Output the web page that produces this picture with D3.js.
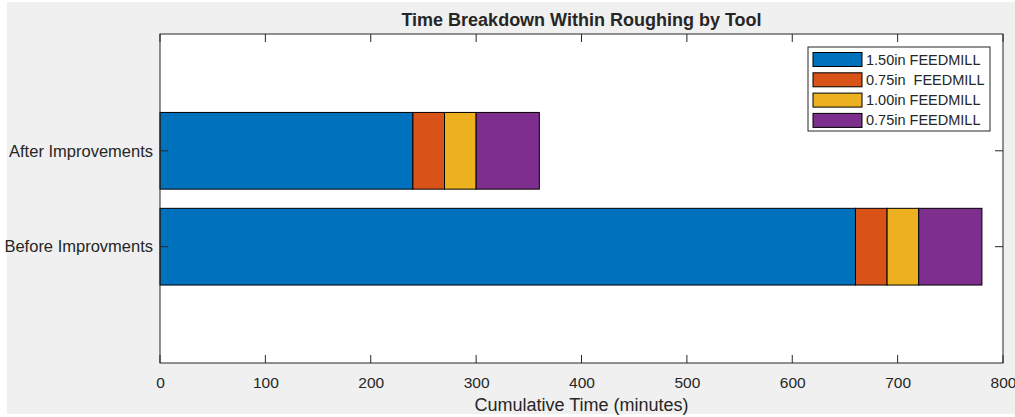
<!DOCTYPE html>
<html>
<head>
<meta charset="utf-8">
<script src="https://cdn.jsdelivr.net/npm/d3@7/dist/d3.min.js"></script>
<style>
  body { margin: 0; background: #fff; }
  text { font-family: "Liberation Sans", Arial, sans-serif; fill: #262626; }
</style>
</head>
<body>
<svg id="chart" width="1015" height="417"></svg>
<script>
const categories = ['Before Improvments', 'After Improvements']
const seriesNames = ['1.50in FEEDMILL', '0.75in  FEEDMILL', '1.00in FEEDMILL', '0.75in FEEDMILL']
const tool150 = [660, 240]
const tool075a = [30, 30]
const tool100 = [30, 30]
const tool075b = [60, 60]
const xTicks = [0, 100, 200, 300, 400, 500, 600, 700, 800]

const colors = ['#0072BD', '#D95319', '#EDB120', '#7E2F8E']
const axisColor = '#262626'

const svg = d3.select('#chart')
const pLeft = 160, pRight = 1003, pTop = 34, pBottom = 363

// figure background
svg.append('rect').attr('x', 7).attr('y', 2).attr('width', 1008).attr('height', 412).attr('fill', '#f0f0f0')
svg.append('rect').attr('x', pLeft).attr('y', pTop).attr('width', pRight - pLeft).attr('height', pBottom - pTop).attr('fill', '#fff')

const xScale = d3.scaleLinear().domain([0, 800]).range([pLeft, pRight])
// category positions 1..n like matlab barh
const yScale = d3.scaleLinear().domain([-0.213, 3.218]).range([pBottom, pTop])
const barH = yScale(0) - yScale(0.8)

const rows = categories.map((c, i) => ({ cat: c, pos: i + 1, vals: [tool150[i], tool075a[i], tool100[i], tool075b[i]] }))

rows.forEach(r => {
  let acc = 0
  r.vals.forEach((v, j) => {
    svg.append('rect')
      .attr('x', xScale(acc))
      .attr('y', yScale(r.pos) - barH / 2)
      .attr('width', xScale(acc + v) - xScale(acc))
      .attr('height', barH)
      .attr('fill', colors[j])
      .attr('stroke', '#000')
      .attr('stroke-width', 1)
    acc += v
  })
})

// axes box
svg.append('rect').attr('x', pLeft).attr('y', pTop).attr('width', pRight - pLeft).attr('height', pBottom - pTop)
  .attr('fill', 'none').attr('stroke', axisColor).attr('stroke-width', 1)

const tickLen = 8
const xAxis = d3.axisBottom(xScale).tickValues(xTicks).tickSize(0).tickPadding(14)
const gx = svg.append('g').attr('transform', `translate(0,${pBottom})`).call(xAxis)
gx.select('.domain').remove()
gx.selectAll('text').attr('font-size', '15.5px').style('font-family', '"Liberation Sans", Arial, sans-serif').attr('fill', axisColor)

xTicks.forEach(t => {
  svg.append('line').attr('x1', xScale(t)).attr('x2', xScale(t)).attr('y1', pBottom).attr('y2', pBottom - tickLen).attr('stroke', axisColor)
  svg.append('line').attr('x1', xScale(t)).attr('x2', xScale(t)).attr('y1', pTop).attr('y2', pTop + tickLen).attr('stroke', axisColor)
})

rows.forEach(r => {
  const y = yScale(r.pos)
  svg.append('line').attr('x1', pLeft).attr('x2', pLeft + tickLen).attr('y1', y).attr('y2', y).attr('stroke', axisColor)
  svg.append('line').attr('x1', pRight).attr('x2', pRight - tickLen).attr('y1', y).attr('y2', y).attr('stroke', axisColor)
  svg.append('text').attr('x', pLeft - 7).attr('y', y).attr('dy', '0.35em')
    .attr('text-anchor', 'end').attr('font-size', '16.5px').text(r.cat)
})

svg.append('text').attr('x', (pLeft + pRight) / 2).attr('y', 411).attr('text-anchor', 'middle')
  .attr('font-size', '18px').text('Cumulative Time (minutes)')

svg.append('text').attr('x', (pLeft + pRight) / 2).attr('y', 26).attr('text-anchor', 'middle')
  .attr('font-size', '18px').attr('font-weight', 'bold').attr('fill', '#000').text('Time Breakdown Within Roughing by Tool')

// legend
const lg = svg.append('g').attr('transform', 'translate(808,47)')
lg.append('rect').attr('width', 182).attr('height', 84).attr('fill', '#fff').attr('stroke', axisColor).attr('stroke-width', 1)
seriesNames.forEach((s, i) => {
  const y = 5.5 + i * 20.3
  lg.append('rect').attr('x', 5).attr('y', y).attr('width', 49).attr('height', 14)
    .attr('fill', colors[i]).attr('stroke', '#000').attr('stroke-width', 1)
  lg.append('text').attr('x', 58).attr('y', y + 7).attr('dy', '0.35em')
    .attr('font-size', '14.5px').style('white-space', 'pre').text(s)
})
</script>
</body>
</html>
